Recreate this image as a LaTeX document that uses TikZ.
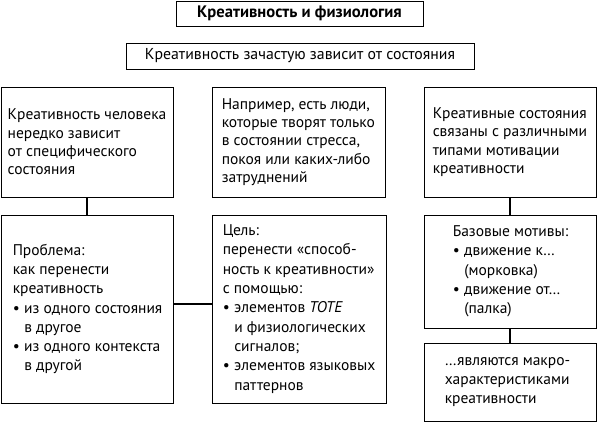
\documentclass[tikz,border=0pt]{standalone}
\usepackage{fontspec}
\setmainfont{PT Sans}
\newcommand{\bul}{\makebox[11.5pt][l]{\textbullet}}
\newcommand{\ind}{\hspace*{11.5pt}}
\begin{document}
\begin{tikzpicture}[x=1pt,y=-1pt,
  box/.style={draw, line width=0.9pt, rectangle, inner sep=0pt},
  txt/.style={inner sep=0pt, anchor=west, align=left, font=\fontsize{15.5}{18.4}\selectfont},
  txtb/.style={txt, font=\fontsize{15.5}{19.3}\selectfont},
  conn/.style={line width=1.6pt}]
\useasboundingbox (0,0) rectangle (597,422);
\node[box, minimum width=247, minimum height=25, align=center,
  font=\fontsize{16.6}{19}\selectfont\bfseries] (title) at (299.5,13.5) {Креативность и физиология};
\node[box, minimum width=348, minimum height=26, align=center,
  font=\fontsize{15.8}{18}\selectfont] (sub) at (300,56)
  {Креативность зачастую зависит от состояния};
% row 1
\node[box, minimum width=172, minimum height=110] (a1) at (87,142) {};
\node[txt] (a1t) at ([xshift=7pt]a1.west)
  {Креативность человека\\нередко зависит\\от специфического\\состояния};
\node[box, minimum width=173.5, minimum height=110] (b1) at (298.75,142) {};
\node[txt] (b1t) at ([xshift=10pt]b1.west)
  {Например, есть люди,\\которые творят только\\в состоянии стресса,\\покоя или каких-либо\\затруднений};
\node[box, minimum width=172, minimum height=110] (c1) at (510,142) {};
\node[txt] (c1t) at ([xshift=9pt]c1.west)
  {Креативные состояния\\связаны с различными\\типами мотивации\\креативности};
% row 2
\node[box, minimum width=172, minimum height=188] (a2) at (87,309) {};
\node[txtb] (a2t) at ([xshift=12pt]a2.west)
  {Проблема:\\как перенести\\креативность\\\bul из одного состояния\\\ind в другое\\\bul из одного контекста\\\ind в другой};
\node[box, minimum width=174, minimum height=188] (b2) at (299,309) {};
\node[txtb] (b2t) at ([xshift=11pt]b2.west)
  {Цель:\\перенести «способ-\\ность к креативности»\\с помощью:\\\bul элементов \textit{TOTE}\\\ind и физиологических\\\ind сигналов;\\\bul элементов языковых\\\ind паттернов};
\node[box, minimum width=172, minimum height=113] (c2) at (510,271.5) {};
\node[txtb] (c2t) at ([xshift=29pt]c2.west)
  {Базовые мотивы:\\\bul движение к…\\\ind (морковка)\\\bul движение от…\\\ind (палка)};
\node[box, minimum width=172, minimum height=78] (c3) at (510,382) {};
\node[txtb] (c3t) at ([xshift=21pt]c3.west)
  {…являются макро-\\характеристиками\\креативности};
% connectors
\draw[conn] (a1.south) -- (a2.north);
\draw[conn] (c1.south) -- (c2.north);
\draw[conn] (c2.south) -- (c3.north);
\draw[conn] ([yshift=5pt]a2.east) -- ([yshift=5pt]b2.west);
\end{tikzpicture}
\end{document}
